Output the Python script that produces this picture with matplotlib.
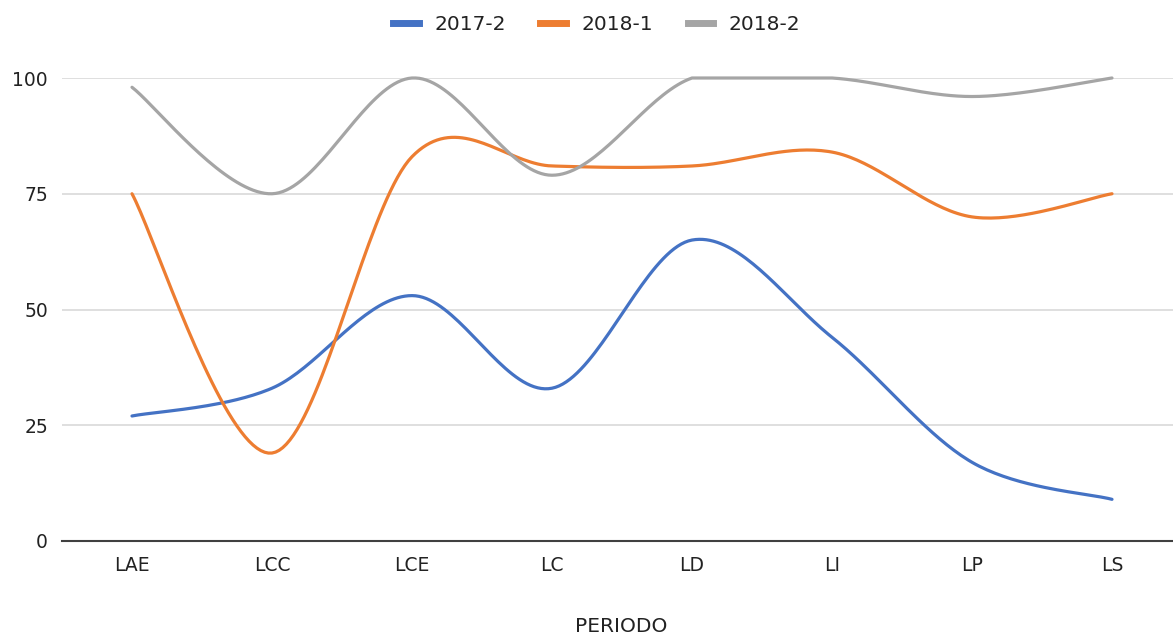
import numpy as np
import matplotlib
matplotlib.use('Agg')
import matplotlib.pyplot as plt
from matplotlib.lines import Line2D

categories = ['LAE', 'LCC', 'LCE', 'LC', 'LD', 'LI', 'LP', 'LS']
s2017_2 = [27, 33, 53, 33, 65, 44, 17, 9]
s2018_1 = [75, 19, 83, 81, 81, 84, 70, 75]
s2018_2 = [98, 75, 100, 79, 100, 100, 96, 100]
series_names = ['2017-2', '2018-1', '2018-2']
colors = ['#4472C4', '#ED7D31', '#A5A5A5']


def smooth(xs, ys, n=40):
    # Catmull-Rom style bezier, similar to the spreadsheet "smoothed line"
    p = np.column_stack([xs, ys]).astype(float)
    pts = [p[0]] + list(p) + [p[-1]]
    out = []
    for i in range(1, len(pts) - 2):
        p0, p1, p2, p3 = pts[i - 1], pts[i], pts[i + 1], pts[i + 2]
        c1 = p1 + (p2 - p0) / 6
        c2 = p2 - (p3 - p1) / 6
        t = np.linspace(0, 1, n)[:, None]
        seg = ((1 - t) ** 3) * p1 + 3 * ((1 - t) ** 2) * t * c1 \
            + 3 * (1 - t) * t ** 2 * c2 + t ** 3 * p2
        out.append(seg if i == 1 else seg[1:])
    out = np.vstack(out)
    return out[:, 0], out[:, 1]


plt.rcParams['font.family'] = ['DejaVu Sans']

W, H = 1173, 639
fig = plt.figure(figsize=(W / 100, H / 100), dpi=100)
ax = fig.add_axes([62 / W, (H - 541) / H, 1120 / W, 463 / H])

x = np.arange(len(categories))
for name, vals, c in zip(series_names, [s2017_2, s2018_1, s2018_2], colors):
    sx, sy = smooth(x, vals)
    # the curve is held inside the plot area (flat at the axis max)
    sy = np.clip(sy, 0, 100)
    ax.plot(sx, sy, color=c, lw=2.3, solid_capstyle='round', clip_on=False)

ax.set_xlim(-0.5, 7.5)
ax.set_ylim(0, 100)
ax.set_yticks([0, 25, 50, 75, 100])
ax.set_xticks(x)
ax.set_xticklabels(categories)
ax.grid(axis='y', color='#D9D9D9', lw=1.2)
ax.set_axisbelow(True)
for s in ['left', 'right', 'top']:
    ax.spines[s].set_visible(False)
ax.spines['bottom'].set_color('#404040')
ax.spines['bottom'].set_linewidth(1.5)
ax.tick_params(axis='both', length=0, labelsize=13.5, colors='#222222')
ax.tick_params(axis='x', pad=11)
ax.tick_params(axis='y', pad=10)

fig.text(621 / W, 1 - 627 / H, 'PERIODO', ha='center', va='center',
         fontsize=14.5, color='#222222')

handles = [Line2D([0], [0], color=c, lw=5) for c in colors]
fig.legend(handles, series_names, loc='center', bbox_to_anchor=(597 / W, 1 - 25 / H),
           ncol=3, frameon=False, fontsize=14.5, handlelength=1.25,
           columnspacing=1.7, handletextpad=0.8, labelcolor='#222222')

fig.savefig('out.png', dpi=100)
